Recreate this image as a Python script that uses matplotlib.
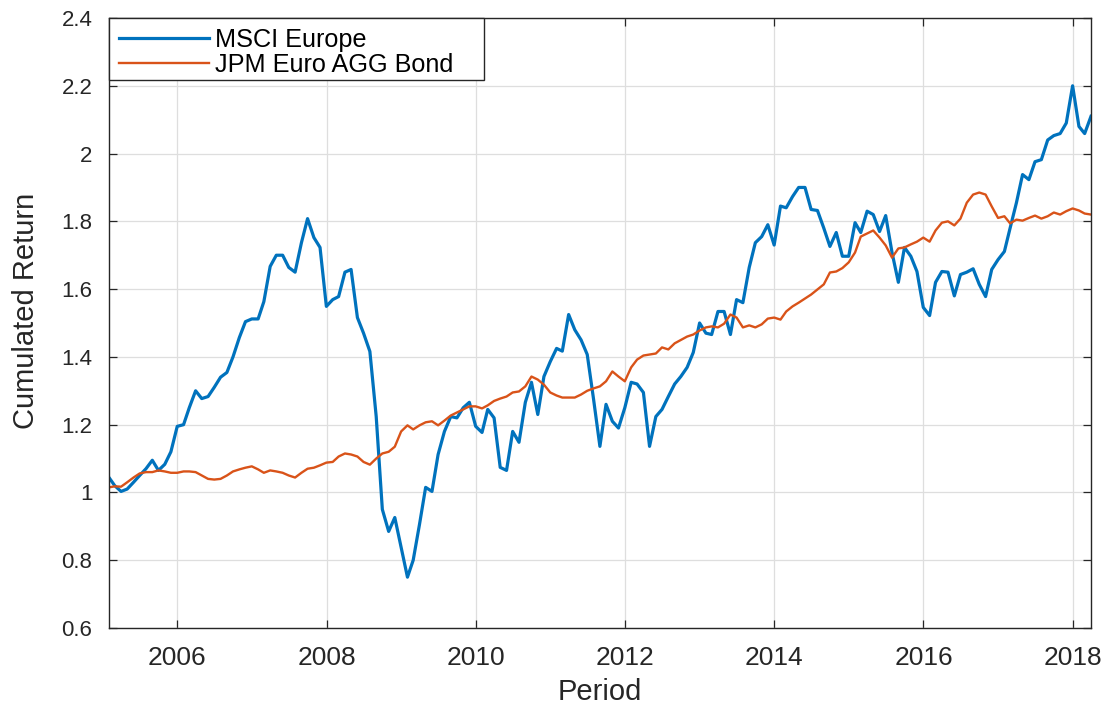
import matplotlib
matplotlib.use("Agg")
import matplotlib.pyplot as plt
import matplotlib.dates as mdates
from matplotlib.patches import Rectangle
from matplotlib.ticker import FuncFormatter
import pandas as pd

# Month-end observations, Jan 2005 .. Mar 2018
dates = pd.date_range("2005-01-31", "2018-03-31", freq="ME")

msci_europe = [
    1.044, 1.020, 1.003, 1.010, 1.030, 1.050, 1.070, 1.095, 1.065, 1.083,
    1.120, 1.195, 1.200, 1.250, 1.300, 1.277, 1.283, 1.310, 1.340, 1.354,
    1.400, 1.457, 1.504, 1.512, 1.512, 1.563, 1.667, 1.700, 1.700, 1.664,
    1.650, 1.737, 1.808, 1.752, 1.723, 1.549, 1.569, 1.578, 1.650, 1.658,
    1.516, 1.470, 1.416, 1.224, 0.950, 0.885, 0.926, 0.838, 0.750, 0.800,
    0.906, 1.015, 1.003, 1.112, 1.180, 1.224, 1.220, 1.250, 1.266, 1.195,
    1.177, 1.245, 1.220, 1.074, 1.065, 1.180, 1.148, 1.266, 1.325, 1.230,
    1.342, 1.386, 1.425, 1.417, 1.525, 1.480, 1.450, 1.407, 1.275, 1.136,
    1.260, 1.210, 1.190, 1.250, 1.325, 1.320, 1.295, 1.136, 1.224, 1.245,
    1.283, 1.320, 1.342, 1.369, 1.413, 1.500, 1.470, 1.466, 1.534, 1.534,
    1.466, 1.569, 1.560, 1.664, 1.737, 1.755, 1.790, 1.730, 1.845, 1.840,
    1.873, 1.900, 1.900, 1.835, 1.832, 1.780, 1.726, 1.767, 1.697, 1.697,
    1.796, 1.767, 1.830, 1.820, 1.770, 1.817, 1.708, 1.620, 1.723, 1.697,
    1.652, 1.546, 1.522, 1.620, 1.652, 1.650, 1.580, 1.643, 1.650, 1.660,
    1.614, 1.578, 1.658, 1.687, 1.711, 1.780, 1.855, 1.938, 1.923, 1.976,
    1.982, 2.040, 2.053, 2.059, 2.090, 2.200, 2.080, 2.059, 2.110,
]

jpm_euro_agg_bond = [
    1.015, 1.018, 1.017, 1.030, 1.044, 1.056, 1.060, 1.060, 1.065, 1.062,
    1.058, 1.058, 1.062, 1.062, 1.060, 1.050, 1.040, 1.038, 1.040, 1.050,
    1.062, 1.068, 1.073, 1.077, 1.068, 1.058, 1.065, 1.062, 1.058, 1.050,
    1.044, 1.058, 1.070, 1.073, 1.080, 1.088, 1.090, 1.106, 1.115, 1.112,
    1.106, 1.090, 1.082, 1.100, 1.115, 1.120, 1.135, 1.180, 1.198, 1.186,
    1.198, 1.207, 1.210, 1.198, 1.212, 1.227, 1.236, 1.245, 1.254, 1.254,
    1.248, 1.257, 1.270, 1.277, 1.283, 1.295, 1.298, 1.313, 1.342, 1.333,
    1.318, 1.295, 1.286, 1.280, 1.280, 1.280, 1.289, 1.300, 1.307, 1.313,
    1.328, 1.357, 1.342, 1.328, 1.369, 1.392, 1.404, 1.407, 1.410, 1.428,
    1.422, 1.440, 1.450, 1.460, 1.466, 1.478, 1.487, 1.490, 1.487, 1.498,
    1.525, 1.516, 1.487, 1.493, 1.487, 1.496, 1.513, 1.516, 1.510, 1.534,
    1.549, 1.560, 1.572, 1.584, 1.599, 1.614, 1.649, 1.652, 1.662, 1.679,
    1.708, 1.755, 1.764, 1.773, 1.752, 1.729, 1.693, 1.720, 1.723, 1.732,
    1.740, 1.752, 1.740, 1.773, 1.796, 1.800, 1.788, 1.808, 1.855, 1.879,
    1.885, 1.879, 1.844, 1.810, 1.815, 1.794, 1.805, 1.802, 1.810, 1.817,
    1.808, 1.815, 1.826, 1.820, 1.830, 1.838, 1.832, 1.823, 1.820,
]

series_labels = ["MSCI Europe", "JPM Euro AGG Bond"]
series_colors = ["#0072BD", "#D95319"]
y_ticks = [0.6, 0.8, 1.0, 1.2, 1.4, 1.6, 1.8, 2.0, 2.2, 2.4]

plt.rcParams["font.family"] = ["Liberation Sans", "DejaVu Sans"]
axis_color = "#262626"

fig = plt.figure(figsize=(11.13, 7.04), dpi=100)
ax = fig.add_axes([109 / 1113, 1 - 628 / 704, 982 / 1113, 610 / 704])

ax.plot(dates, msci_europe, color=series_colors[0], lw=2.3,
        label=series_labels[0], solid_joinstyle="round")
ax.plot(dates, jpm_euro_agg_bond, color=series_colors[1], lw=1.7,
        label=series_labels[1], solid_joinstyle="round")

ax.set_xlim(dates[0], dates[-1])
ax.set_ylim(y_ticks[0], y_ticks[-1])
ax.set_yticks(y_ticks)
ax.yaxis.set_major_formatter(FuncFormatter(lambda v, p: f"{v:g}"))
ax.xaxis.set_major_locator(mdates.YearLocator(2))
ax.xaxis.set_major_formatter(mdates.DateFormatter("%Y"))

ax.grid(True, color="#dedede", lw=0.9)
ax.set_axisbelow(True)
ax.tick_params(direction="in", length=6, width=0.9, color=axis_color,
               top=True, right=True)
ax.tick_params(axis="x", labelsize=19, pad=13, labelcolor=axis_color)
ax.tick_params(axis="y", labelsize=16, pad=12, labelcolor=axis_color)
for s in ax.spines.values():
    s.set_color(axis_color)
    s.set_linewidth(1.0)

ax.set_xlabel("Period", fontsize=21, color=axis_color)
ax.xaxis.set_label_coords(0.5, -0.082)
ax.set_ylabel("Cumulated Return", fontsize=21, color=axis_color)
ax.yaxis.set_label_coords(-0.07, 0.52)

# Legend box flush with the upper-left corner of the axes
box_w = 375 / 982
box_h = 62 / 610
ax.add_patch(Rectangle((0, 1 - box_h), box_w, box_h, transform=ax.transAxes,
                       facecolor="white", edgecolor=axis_color, lw=1.0,
                       zorder=4, clip_on=False))
ax.legend(loc="upper left", bbox_to_anchor=(10 / 982, 1 - 10 / 610),
          frameon=False, fontsize=18.2, handlelength=3.55, handletextpad=0.25,
          borderpad=0, borderaxespad=0, labelspacing=0.02)

fig.savefig("out.png", dpi=100, facecolor="white")
